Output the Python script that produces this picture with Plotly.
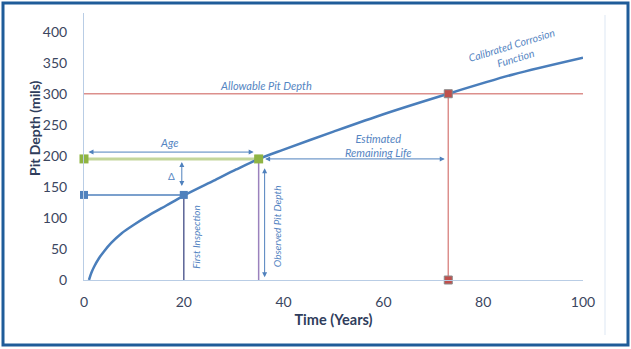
import plotly.graph_objects as go

# ---- data ----
curve_time = [1, 1.5, 2, 3, 4, 5.5, 7.5, 10, 13, 16.5, 20, 26, 30.5, 35, 40, 50, 60, 73, 86, 100]
curve_depth = [0, 12, 21, 35, 46, 60, 75, 89, 104, 120, 136, 160, 178, 195, 210, 239, 267, 300, 331, 358]

allowable_depth = 300
first_insp_time = 20
first_insp_depth = 137
observed_time = 35
observed_depth = 195
end_life_time = 73
time_max = 100

x_ticks = [0, 20, 40, 60, 80, 100]
y_ticks = [0, 50, 100, 150, 200, 250, 300, 350, 400]

BLUE = "#4a7ebb"
ARROW = "#4f81bd"
TXT = "#5585c2"
RED_LINE = "#dc8f8c"
RED_MK = "#c0504d"
GREEN_LINE = "#c3d69b"
GREEN_MK = "#8fb443"
PURPLE = "#9b82bd"
SLATE = "#5b6396"
TICK = "#3b4660"
TITLE = "#2f3d5c"

fig = go.Figure()

# allowable pit depth line
fig.add_trace(go.Scatter(x=[0, time_max], y=[allowable_depth, allowable_depth], mode="lines",
                         line=dict(color=RED_LINE, width=1.5), hoverinfo="skip"))
# end of life vertical
fig.add_trace(go.Scatter(x=[end_life_time, end_life_time], y=[0, allowable_depth], mode="lines",
                         line=dict(color=RED_LINE, width=1.5), hoverinfo="skip"))
# first inspection horizontal & vertical
fig.add_trace(go.Scatter(x=[0, first_insp_time], y=[first_insp_depth, first_insp_depth], mode="lines",
                         line=dict(color=ARROW, width=1.5), hoverinfo="skip"))
fig.add_trace(go.Scatter(x=[first_insp_time, first_insp_time], y=[0, first_insp_depth], mode="lines",
                         line=dict(color=SLATE, width=1.5), hoverinfo="skip"))
# observed vertical
fig.add_trace(go.Scatter(x=[observed_time, observed_time], y=[0, observed_depth], mode="lines",
                         line=dict(color=PURPLE, width=1.5), hoverinfo="skip"))
# green age line
fig.add_trace(go.Scatter(x=[0, observed_time], y=[observed_depth, observed_depth], mode="lines",
                         line=dict(color=GREEN_LINE, width=3), hoverinfo="skip"))
# corrosion curve
fig.add_trace(go.Scatter(x=curve_time, y=curve_depth, mode="lines",
                         line=dict(color=BLUE, width=2.5, shape="spline", smoothing=0.8)))
# markers
fig.add_trace(go.Scatter(x=[0, first_insp_time], y=[first_insp_depth, first_insp_depth], mode="markers",
                         cliponaxis=False, marker=dict(symbol="square", size=8, color=ARROW)))
fig.add_trace(go.Scatter(x=[0, observed_time], y=[observed_depth, observed_depth], mode="markers",
                         cliponaxis=False, marker=dict(symbol="square", size=9, color=GREEN_MK)))
fig.add_trace(go.Scatter(x=[end_life_time, end_life_time], y=[allowable_depth, 0], mode="markers",
                         cliponaxis=False,
                         marker=dict(symbol="square", size=8, color=RED_MK,
                                     line=dict(color="#8a8a8a", width=1))))


def arrow(x0, y0, x1, y1):
    fig.add_annotation(x=x1, y=y1, ax=x0, ay=y0, xref="x", yref="y", axref="x", ayref="y",
                       text="", showarrow=True, arrowhead=2, arrowsize=1, arrowwidth=1,
                       arrowcolor=ARROW, arrowside="end+start", startarrowhead=2)


# Age arrow
arrow(0.6, 206, 34, 206)
# Delta arrow
arrow(19.6, 149, 19.6, 190)
# Observed pit depth arrow
arrow(36.2, 2, 36.2, 180)
# Remaining life arrow
arrow(36, observed_depth, 72.3, observed_depth)


def label(x, y, text, angle=0, size=11):
    fig.add_annotation(x=x, y=y, xref="x", yref="y", text=text, showarrow=False,
                       textangle=angle, font=dict(size=size, color=TXT, family="Lato"))


label(36.4, 314, "<i>Allowable Pit Depth</i>")
label(17, 221, "<i>Age</i>")
label(17.6, 168, "Δ", size=10)
label(22.3, 70, "<i>First Inspection</i>", angle=-90, size=10)
label(38.6, 86, "<i>Observed Pit Depth</i>", angle=-90, size=10)
label(59, 216, "<i>Estimated<br>Remaining Life</i>")
label(86, 367, "<i>Calibrated Corrosion<br>Function</i>", angle=-17, size=10.5)

# y-axis title placed as in the reference (slightly above the plot centre)
fig.add_annotation(xref="paper", yref="paper", x=(34 - 84) / 499, y=(280 - 128) / 267,
                   xanchor="center", yanchor="middle",
                   text="<b>Pit Depth (mils)</b>", showarrow=False, textangle=-90,
                   font=dict(size=14, color=TITLE, family="Lato"))

# decorations: outer frame and faint chart-area edge
fig.add_shape(type="rect", xref="paper", yref="paper",
              x0=(3 - 84) / 499, x1=(628 - 84) / 499, y0=(280 - 345) / 267, y1=(280 - 3) / 267,
              line=dict(color="#1f5c99", width=3), layer="below")
fig.add_shape(type="line", xref="paper", yref="paper",
              x0=(605 - 84) / 499, x1=(605 - 84) / 499, y0=(280 - 335) / 267, y1=(280 - 15) / 267,
              line=dict(color="#dde7f3", width=1), layer="below")

fig.update_layout(
    width=631, height=349,
    margin=dict(l=84, r=48, t=13, b=69),
    paper_bgcolor="white", plot_bgcolor="white",
    showlegend=False,
    font=dict(family="Lato", color=TICK),
)
fig.update_xaxes(range=[0, time_max], tickvals=x_ticks, showgrid=False, zeroline=False,
                 showline=True, linecolor="#b9cde5", linewidth=1,
                 tickfont=dict(size=14, color=TICK), ticks="", ticklabelstandoff=9,
                 title=dict(text="<b>Time (Years)</b>", font=dict(size=14.5, color=TITLE), standoff=6))
fig.update_yaxes(range=[0, 430], tickvals=y_ticks, showgrid=False, zeroline=False,
                 showline=True, linecolor="#b9cde5", linewidth=1,
                 tickfont=dict(size=14, color=TICK), ticks="", ticklabelstandoff=13)

fig.write_html("out.html", config={"displayModeBar": False},
               post_script="document.body.style.margin='0px';document.body.style.overflow='hidden';")
